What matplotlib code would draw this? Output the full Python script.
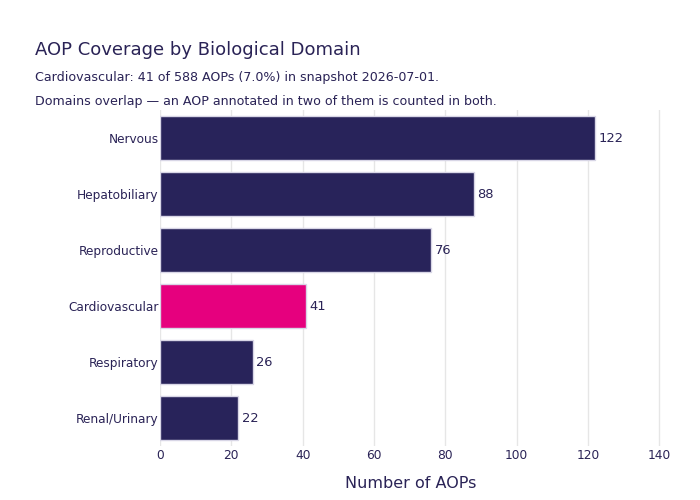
import matplotlib
matplotlib.use("Agg")
import matplotlib.pyplot as plt

categories = ["Nervous", "Hepatobiliary", "Reproductive", "Cardiovascular", "Respiratory", "Renal/Urinary"]
values = [122, 88, 76, 41, 26, 22]
highlight = "Cardiovascular"
xticks = [0, 20, 40, 60, 80, 100, 120, 140]

navy = "#28235a"
pink = "#e6007e"
txt = "#2a2356"

plt.rcParams['font.family'] = ['DejaVu Sans']
fig = plt.figure(figsize=(7, 5), dpi=100)
ax = fig.add_axes([160/700, 1-446/500, 501/700, 336/500])

colors = [pink if c == highlight else navy for c in categories]
ypos = list(range(len(categories)))
bars = ax.barh(ypos, values, height=0.8, color=colors, edgecolor="#d8d6e6", linewidth=1, zorder=3)
ax.set_ylim(len(categories)-0.5, -0.5)
ax.set_xlim(0, 140.5)
ax.set_yticks(ypos)
ax.set_yticklabels(categories, fontsize=8.7, color=txt)
ax.set_xticks(xticks)
ax.set_xticklabels([str(t) for t in xticks], fontsize=8.8, color=txt)
ax.tick_params(axis='both', length=0, pad=1)
ax.tick_params(axis='x', pad=2.5)
for s in ax.spines.values():
    s.set_visible(False)
ax.grid(axis='x', color="#e6e6e6", linewidth=1, zorder=0)
ax.set_axisbelow(True)
for b, v in zip(bars, values):
    ax.text(v + 1, b.get_y() + b.get_height()/2, str(v), va='center', ha='left',
            fontsize=9.4, color=txt, zorder=4)
ax.set_xlabel("Number of AOPs", fontsize=11.5, color=txt, labelpad=10)

fig.text(35/700, 1-50/500, "AOP Coverage by Biological Domain", fontsize=13, color=txt, va='center', ha='left')
fig.text(35/700, 1-78/500, "Cardiovascular: 41 of 588 AOPs (7.0%) in snapshot 2026-07-01.", fontsize=9.05, color=txt, va='center', ha='left')
fig.text(35/700, 1-102/500, "Domains overlap \u2014 an AOP annotated in two of them is counted in both.", fontsize=9.05, color=txt, va='center', ha='left')

fig.savefig("out.png", dpi=100, facecolor="white")
